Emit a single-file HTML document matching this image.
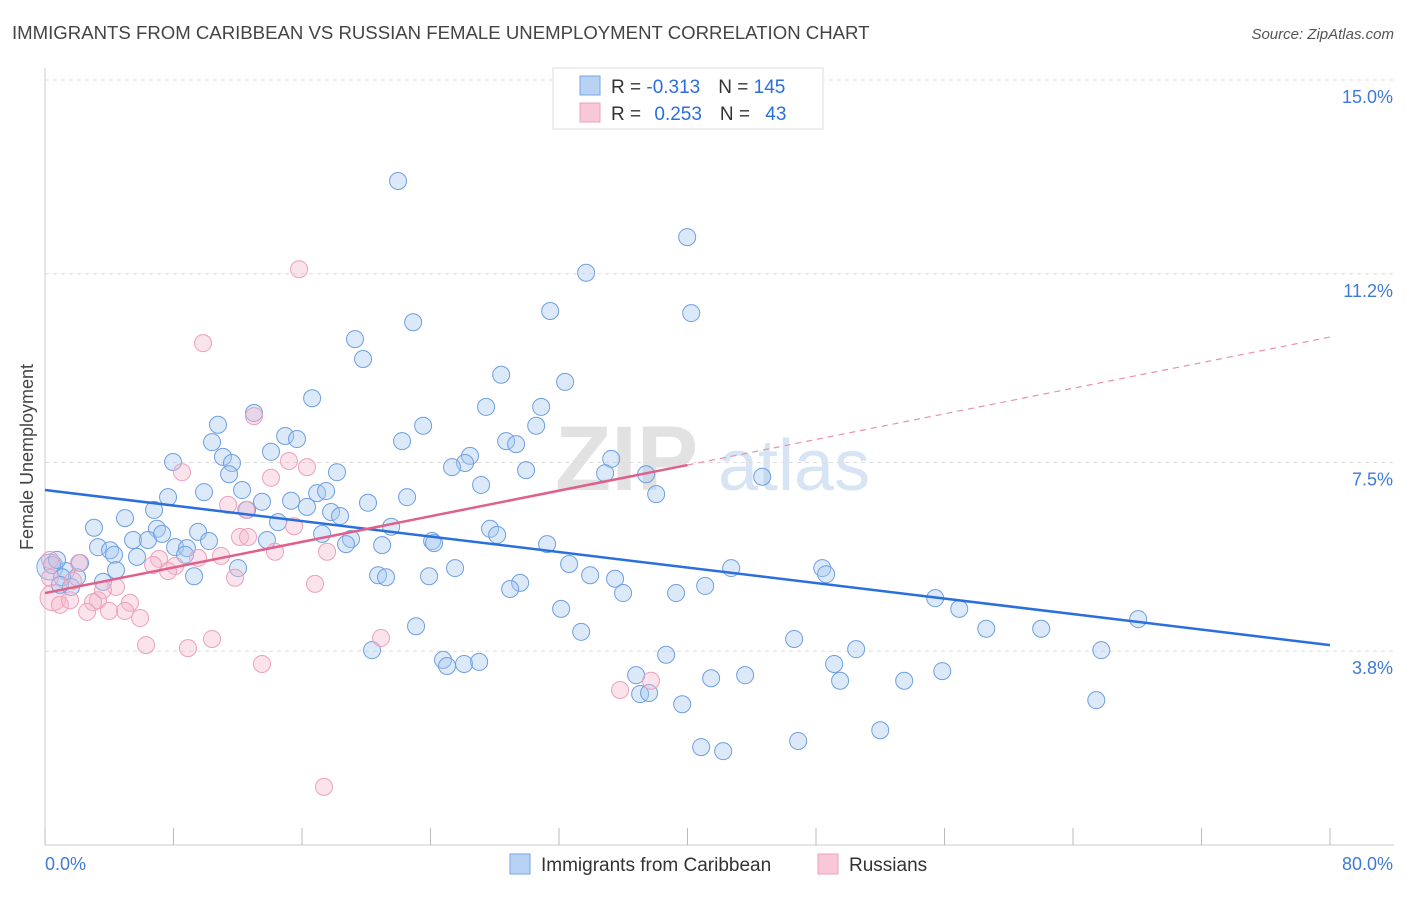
<!DOCTYPE html>
<html><head><meta charset="utf-8"><style>
body{margin:0;background:#fff;font-family:"Liberation Sans",sans-serif;}
svg text{font-family:"Liberation Sans",sans-serif;}
</style></head><body>
<svg id="chart" width="1406" height="892" xmlns="http://www.w3.org/2000/svg">
<text x="12" y="39" font-size="18.6" fill="#444">IMMIGRANTS FROM CARIBBEAN VS RUSSIAN FEMALE UNEMPLOYMENT CORRELATION CHART</text>
<text x="1394" y="39" font-size="15" fill="#555" text-anchor="end" font-style="italic">Source: ZipAtlas.com</text>
<text transform="translate(33,457) rotate(-90)" font-size="18" fill="#444" text-anchor="middle">Female Unemployment</text>
<g>
<text x="555" y="490" font-size="92" font-family="Liberation Serif" font-weight="bold" fill="#e2e2e2">ZIP</text>
<text x="718" y="490" font-size="72" fill="#d6e4f4">atlas</text>
</g>
<g id="grid"></g><g id="axes"></g><g id="marks"></g><g id="trends"></g>
<g>
<rect x="553" y="68" width="270" height="61" fill="#fff" stroke="#ddd"/>
<rect x="580" y="76" width="20" height="19" fill="#b8d2f4" stroke="#7aa6e4"/>
<rect x="580" y="103" width="20" height="19" fill="#f8c8d8" stroke="#eca0bc"/>
<text x="611" y="93" font-size="19" fill="#333">R = <tspan fill="#2a6fdb">-0.313</tspan><tspan dx="18">N = </tspan><tspan fill="#2a6fdb">145</tspan></text>
<text x="611" y="120" font-size="19" fill="#333">R = <tspan fill="#2a6fdb" dx="8">0.253</tspan><tspan dx="18">N = </tspan><tspan fill="#2a6fdb" dx="10">43</tspan></text>
</g>
<g>
<rect x="510" y="854" width="20" height="20" fill="#b8d2f4" stroke="#7aa6e4"/>
<text x="541" y="871" font-size="19" fill="#333">Immigrants from Caribbean</text>
<rect x="818" y="854" width="20" height="20" fill="#f8c8d8" stroke="#eca0bc"/>
<text x="849" y="871" font-size="19" fill="#333">Russians</text>
</g>
</svg>
<script>
const yTicks=[3.8,7.5,11.2,15.0];
const yTickLabels=["3.8%","7.5%","11.2%","15.0%"];
const xEndLabels=["0.0%","80.0%"];
const blueX=[21.98,39.98,33.69,31.45,40.23,22.92,19.30,19.80,28.40,32.38,16.63,27.46,30.89,13.01,10.77,23.54,30.58,14.95,15.69,22.23,10.40,28.71,29.33,11.08,14.07,26.46,7.97,11.64,26.15,25.34,35.25,29.95,18.18,11.46,34.87,37.42,44.65,27.15,12.27,9.90,16.94,17.50,7.66,22.54,38.05,13.51,15.32,20.11,12.58,6.79,16.31,17.81,18.37,4.98,14.51,3.05,6.97,9.53,27.71,28.15,17.25,21.55,5.48,6.41,7.29,13.82,19.05,24.10,18.74,20.99,10.21,3.30,8.10,8.84,4.05,8.72,31.26,24.22,4.30,5.73,2.18,32.63,25.53,42.72,48.39,48.63,1.31,0.44,4.42,12.02,20.74,21.23,23.91,33.94,35.49,29.58,28.96,1.99,1.06,3.61,9.28,1.62,39.29,41.10,35.99,55.42,56.92,32.13,68.06,23.10,33.38,46.64,58.60,62.02,50.50,65.76,20.36,24.78,25.03,26.09,27.03,38.67,49.13,55.86,36.80,41.47,43.59,49.50,53.49,37.05,37.61,39.67,65.45,52.00,46.89,40.85,42.22,0.75,0.93];
const blueY=[13.02,11.92,11.22,10.47,10.43,10.25,9.92,9.53,9.22,9.08,8.76,8.59,8.59,8.47,8.24,8.22,8.22,8.02,7.96,7.92,7.90,7.92,7.86,7.61,7.71,7.63,7.51,7.49,7.49,7.41,7.57,7.35,7.31,7.27,7.29,7.27,7.22,7.06,6.96,6.92,6.90,6.94,6.82,6.82,6.88,6.73,6.75,6.71,6.57,6.57,6.63,6.53,6.45,6.41,6.33,6.22,6.20,6.14,6.20,6.08,6.10,6.24,5.98,5.98,6.10,5.98,6.00,5.96,5.90,5.88,5.96,5.84,5.84,5.82,5.78,5.69,5.90,5.92,5.69,5.65,5.53,5.51,5.43,5.43,5.43,5.31,5.37,5.49,5.39,5.43,5.29,5.25,5.27,5.29,5.22,5.14,5.02,5.25,5.25,5.16,5.27,5.06,4.94,5.08,4.94,4.84,4.63,4.63,4.43,4.29,4.18,4.04,4.24,4.24,3.84,3.82,3.82,3.63,3.51,3.55,3.59,3.73,3.55,3.41,3.33,3.27,3.33,3.22,3.22,2.96,2.98,2.76,2.84,2.25,2.04,1.92,1.84,5.59,5.10];
const pinkX=[15.82,9.84,13.01,8.53,15.19,16.31,14.07,11.40,12.52,15.51,12.14,12.64,14.32,17.56,10.96,9.53,7.10,6.73,8.10,7.66,2.12,0.31,0.31,1.74,11.83,16.81,4.42,3.61,5.29,3.30,2.99,4.98,3.99,2.62,5.92,0.93,1.56,20.92,10.40,8.90,6.29,13.51,35.80,37.73,17.37];
const pinkY=[11.29,9.84,8.41,7.31,7.53,7.41,7.20,6.67,6.57,6.25,6.04,6.04,5.75,5.75,5.67,5.63,5.61,5.49,5.47,5.37,5.53,5.59,5.24,5.18,5.24,5.12,5.06,5.00,4.75,4.80,4.76,4.59,4.59,4.57,4.45,4.71,4.80,4.06,4.04,3.86,3.92,3.55,3.04,3.22,1.14];
const blueTrend=[6.96,3.92];   // y at x=0 and x=80
const pinkTrend=[4.94,9.96];   // y at x=0 and x=80
const pinkSolidEnd=40;

const X0=45,X1=1330,Y0=845,YTOP=80;
const xs=v=>X0+(X1-X0)*v/80;
const ys=v=>Y0-(Y0-YTOP)*v/15;
const NS="http://www.w3.org/2000/svg";
function mk(tag,attrs,parent){const e=document.createElementNS(NS,tag);for(const k in attrs)e.setAttribute(k,attrs[k]);parent.appendChild(e);return e;}
const grid=document.getElementById('grid'),axes=document.getElementById('axes'),marks=document.getElementById('marks'),trends=document.getElementById('trends');
yTicks.forEach((t,i)=>{
  const l=mk('line',{x1:X0,x2:1394,y1:ys(t),y2:ys(t),stroke:'#ddd','stroke-dasharray':'4,4'},grid);
  
  
  const tx=mk('text',{x:1393,y:ys(t)+23,'font-size':18,fill:'#3f7ad6','text-anchor':'end'},axes);
  tx.textContent=yTickLabels[i];
  
  
});
const ax=mk('line',{x1:X0,x2:X0,y1:68,y2:Y0,stroke:'#ccc'},axes);


const bx=mk('line',{x1:X0,x2:1394,y1:Y0,y2:Y0,stroke:'#ccc'},axes);


for(let v=0;v<=80;v+=8){
  const t=mk('line',{x1:xs(v),x2:xs(v),y1:828,y2:Y0,stroke:'#bbb'},axes);
  
  
}
const xl0=mk('text',{x:45,y:870,'font-size':18,fill:'#3f7ad6'},axes);xl0.textContent=xEndLabels[0];


const xl1=mk('text',{x:1393,y:870,'font-size':18,fill:'#3f7ad6','text-anchor':'end'},axes);xl1.textContent=xEndLabels[1];


const b1=mk('circle',{cx:xs(0.3),cy:ys(5.45),r:13,fill:'rgba(168,200,240,0.4)',stroke:'#7aa6e4'},marks);


const p1=mk('circle',{cx:xs(0.5),cy:ys(4.85),r:13,fill:'rgba(244,184,204,0.4)',stroke:'#eca0bc'},marks);


blueX.forEach((x,i)=>{
  const c=mk('circle',{cx:xs(x),cy:ys(blueY[i]),r:8.5,fill:'rgba(168,200,240,0.4)',stroke:'#6e9fe2','stroke-width':1},marks);
  
  
});
pinkX.forEach((x,i)=>{
  const c=mk('circle',{cx:xs(x),cy:ys(pinkY[i]),r:8.5,fill:'rgba(244,184,204,0.4)',stroke:'#eca0bc','stroke-width':1},marks);
  
  
});
const bt=mk('line',{x1:xs(0),y1:ys(blueTrend[0]),x2:xs(80),y2:ys(blueTrend[1]),stroke:'#2a6fdb','stroke-width':2.5},trends);


const pAt=x=>pinkTrend[0]+(pinkTrend[1]-pinkTrend[0])*x/80;
const pt=mk('line',{x1:xs(0),y1:ys(pAt(0)),x2:xs(pinkSolidEnd),y2:ys(pAt(pinkSolidEnd)),stroke:'#e0608a','stroke-width':2.5},trends);


const pd=mk('line',{x1:xs(pinkSolidEnd),y1:ys(pAt(pinkSolidEnd)),x2:xs(80),y2:ys(pAt(80)),stroke:'#e890ac','stroke-width':1.2,'stroke-dasharray':'6,5'},trends);


</script>
</body></html>
